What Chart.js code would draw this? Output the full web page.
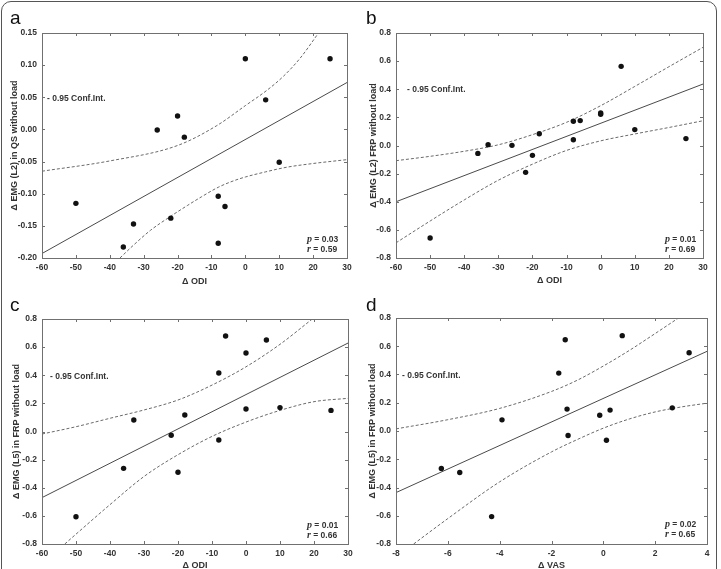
<!DOCTYPE html>
<html>
<head>
<meta charset="utf-8">
<script src="https://cdn.jsdelivr.net/npm/chart.js@4/dist/chart.umd.min.js"></script>
<style>
  html, body { margin: 0; padding: 0; background: #fff; overflow: hidden; }
  #wrap { position: relative; width: 721px; height: 569px; overflow: hidden; font-family: "Liberation Sans Narrow", "Liberation Sans", Arial, sans-serif; }
  #frame { position: absolute; left: 1px; top: 1px; width: 714px; height: 640px; border: 1px solid #555; border-radius: 10px; }
  canvas { position: absolute; }
  .letter { position: absolute; font-family: "Liberation Sans", Arial, sans-serif; font-size: 19px; line-height: 1; color: #111; }
  .note { position: absolute; font-size: 8.5px; font-weight: bold; line-height: 1; color: #333; white-space: nowrap; }
  .stat { position: absolute; font-size: 8.5px; font-weight: bold; line-height: 9px; color: #333; white-space: nowrap; }
  .stat i { font-family: "Liberation Serif", "Times New Roman", serif; font-size: 10px; }
</style>
</head>
<body>
<div id="wrap">
  <div id="frame"></div>
  <canvas id="pa" width="360" height="292" style="left:0;top:0"></canvas>
  <canvas id="pb" width="361" height="292" style="left:360px;top:0"></canvas>
  <canvas id="pc" width="360" height="292" style="left:0;top:285px"></canvas>
  <canvas id="pd" width="361" height="292" style="left:360px;top:285px"></canvas>

  <div class="letter" style="left:10px;top:8px">a</div>
  <div class="letter" style="left:366px;top:8px">b</div>
  <div class="letter" style="left:10px;top:295px">c</div>
  <div class="letter" style="left:366px;top:295px">d</div>

  <div class="note" style="left:47px;top:94px">- 0.95 Conf.Int.</div>
  <div class="note" style="left:407px;top:85px">- 0.95 Conf.Int.</div>
  <div class="note" style="left:50px;top:372px">- 0.95 Conf.Int.</div>
  <div class="note" style="left:402px;top:371px">- 0.95 Conf.Int.</div>

  <div class="stat" style="left:307px;top:234px"><i>p</i> = 0.03<br><i>r</i> = 0.59</div>
  <div class="stat" style="left:665px;top:234px"><i>p</i> = 0.01<br><i>r</i> = 0.69</div>
  <div class="stat" style="left:307px;top:520px"><i>p</i> = 0.01<br><i>r</i> = 0.66</div>
  <div class="stat" style="left:665px;top:519px"><i>p</i> = 0.02<br><i>r</i> = 0.65</div>
</div>

<script>
// ---- panel a: ODI vs EMG (L2) QS ----
const aX = [-50, -36, -33, -26, -22, -20, -18, -8, -8, -6, 0, 6, 10, 25];
const aY = [-0.115, -0.183, -0.147, -0.001, -0.138, 0.021, -0.012, -0.104, -0.177, -0.120, 0.110, 0.046, -0.051, 0.110];
const aFitX = [-60, 30];
const aFitY = [-0.193, 0.073];
const aUpX = [-60, -40, -20, -8.4, 0, 6.4, 11.3, 16.2, 21.6];
const aUpY = [-0.065, -0.049, -0.025, 0.006, 0.037, 0.061, 0.083, 0.111, 0.150];
const aLoX = [-37, -33, -28, -22, -17, -13, -8, -3.5, 0, 6, 12, 20, 30];
const aLoY = [-0.200, -0.180, -0.157, -0.135, -0.118, -0.105, -0.090, -0.080, -0.074, -0.066, -0.059, -0.053, -0.047];

// ---- panel b: ODI vs EMG (L2) FRP ----
const bX = [-50, -36, -33, -26, -22, -20, -18, -8, -8, -6, 0, 0, 6, 10, 25];
const bY = [-0.658, -0.056, 0.006, 0.001, -0.191, -0.070, 0.084, 0.172, 0.041, 0.177, 0.232, 0.222, 0.563, 0.113, 0.049];
const bFitX = [-60, 30];
const bFitY = [-0.40, 0.437];
const bUpX = [-60, -50, -40, -30, -20, -10, 0, 10, 20, 30];
const bUpY = [-0.108, -0.077, -0.041, 0.005, 0.077, 0.165, 0.283, 0.420, 0.560, 0.698];
const bLoX = [-60, -50, -40, -30, -20, -10, 0, 10, 20, 30];
const bLoY = [-0.692, -0.537, -0.387, -0.247, -0.133, -0.035, 0.033, 0.082, 0.128, 0.176];

// ---- panel c: ODI vs EMG (L5) FRP ----
const cX = [-50, -36, -33, -22, -20, -18, -8, -8, -6, 0, 0, 6, 10, 25];
const cY = [-0.606, -0.262, 0.082, -0.027, -0.290, 0.117, 0.416, -0.060, 0.679, 0.558, 0.160, 0.651, 0.170, 0.150];
const cFitX = [-60, 30];
const cFitY = [-0.47, 0.629];
const cUpX = [-60, -50, -40, -30, -20, -10, 0, 10, 19.5];
const cUpY = [-0.018, 0.034, 0.094, 0.153, 0.224, 0.330, 0.460, 0.620, 0.800];
const cLoX = [-53.3, -50, -40, -30, -20, -10, 0, 10, 20, 30];
const cLoY = [-0.800, -0.730, -0.520, -0.320, -0.165, -0.035, 0.067, 0.150, 0.212, 0.236];

// ---- panel d: VAS vs EMG (L5) FRP ----
const dX = [-6.25, -5.54, -4.31, -3.91, -1.72, -1.47, -1.40, -1.36, -0.14, 0.12, 0.26, 0.73, 2.66, 3.31];
const dY = [-0.266, -0.294, -0.606, 0.079, 0.410, 0.646, 0.155, -0.032, 0.112, -0.065, 0.148, 0.675, 0.164, 0.554];
const dFitX = [-8, 4];
const dFitY = [-0.436, 0.564];
const dUpX = [-8, -6, -4, -2, -1, 0, 1, 2, 2.9];
const dUpY = [0.015, 0.080, 0.160, 0.280, 0.360, 0.460, 0.570, 0.690, 0.800];
const dLoX = [-7.32, -6, -4, -2, -1, 0, 1, 2, 3, 4];
const dLoY = [-0.800, -0.620, -0.360, -0.148, -0.060, 0.020, 0.085, 0.135, 0.170, 0.197];

// tick labels
const odiTicks = [-60, -50, -40, -30, -20, -10, 0, 10, 20, 30];
const vasTicks = [-8, -6, -4, -2, 0, 2, 4];
const aYTicks = [-0.20, -0.15, -0.10, -0.05, 0.00, 0.05, 0.10, 0.15];
const frpTicks = [-0.8, -0.6, -0.4, -0.2, 0.0, 0.2, 0.4, 0.6, 0.8];

const FONT = '"Liberation Sans Narrow", "Liberation Sans", Arial, sans-serif';

function pts(xs, ys) {
  return xs.map((x, i) => ({ x: x, y: ys[i] }));
}

// box around plot + small inward ticks on all four sides
const boxTicks = {
  id: 'boxTicks',
  afterDraw(chart) {
    const { ctx, chartArea: a, scales } = chart;
    const x = scales.x, y = scales.y;
    ctx.save();
    ctx.strokeStyle = '#707070';
    ctx.lineWidth = 1;
    ctx.strokeRect(Math.round(a.left) + 0.5, Math.round(a.top) + 0.5, Math.round(a.right - a.left), Math.round(a.bottom - a.top));
    ctx.beginPath();
    x.ticks.forEach(t => {
      const px = Math.round(x.getPixelForValue(t.value)) + 0.5;
      ctx.moveTo(px, a.bottom); ctx.lineTo(px, a.bottom - 3);
      ctx.moveTo(px, a.top); ctx.lineTo(px, a.top + 3);
    });
    y.ticks.forEach(t => {
      const py = Math.round(y.getPixelForValue(t.value)) + 0.5;
      ctx.moveTo(a.left, py); ctx.lineTo(a.left + 3, py);
      ctx.moveTo(a.right, py); ctx.lineTo(a.right - 3, py);
    });
    ctx.stroke();
    ctx.restore();
  }
};

function makePanel(id, p) {
  const dash = { showLine: true, borderColor: '#6a6a6a', borderWidth: 1, borderDash: [3, 2], pointRadius: 0, cubicInterpolationMode: 'monotone' };
  new Chart(document.getElementById(id), {
    type: 'scatter',
    data: {
      datasets: [
        { data: pts(p.x, p.y), pointRadius: 2.7, backgroundColor: '#111', borderWidth: 0 },
        { data: pts(p.fitX, p.fitY), showLine: true, borderColor: '#4a4a4a', borderWidth: 1, pointRadius: 0 },
        Object.assign({ data: pts(p.upX, p.upY) }, dash),
        Object.assign({ data: pts(p.loX, p.loY) }, dash)
      ]
    },
    options: {
      responsive: false,
      animation: false,
      events: [],
      layout: { padding: { top: p.padTop, right: p.padRight, left: 0, bottom: 0 } },
      plugins: { legend: { display: false }, tooltip: { enabled: false } },
      scales: {
        x: {
          type: 'linear',
          min: p.xTicks[0],
          max: p.xTicks[p.xTicks.length - 1],
          afterBuildTicks: s => { s.ticks = p.xTicks.map(v => ({ value: v })); },
          afterFit: s => { s.height = p.xH; },
          grid: { display: false, drawTicks: false },
          border: { display: false },
          ticks: { autoSkip: false, maxRotation: 0, padding: 5, color: '#333', font: { family: FONT, size: 8.5, weight: 'bold' },
                   callback: v => String(v) },
          title: { display: true, text: p.xTitle, color: '#333', font: { family: FONT, size: 9, weight: 'bold' }, padding: { top: 0, bottom: p.xTitlePad } }
        },
        y: {
          type: 'linear',
          min: p.yTicks[0],
          max: p.yTicks[p.yTicks.length - 1],
          afterBuildTicks: s => { s.ticks = p.yTicks.map(v => ({ value: v })); },
          afterFit: s => { s.width = p.yW; },
          grid: { display: false, drawTicks: false },
          border: { display: false },
          ticks: { autoSkip: false, padding: 5, color: '#333', font: { family: FONT, size: 8.5, weight: 'bold' },
                   callback: v => v.toFixed(p.dec) },
          title: { display: true, text: p.yTitle, color: '#333', font: { family: FONT, size: 9, weight: 'bold' }, padding: { top: p.yTitlePad, bottom: 0 } }
        }
      }
    },
    plugins: [boxTicks]
  });
}

makePanel('pa', {
  x: aX, y: aY, fitX: aFitX, fitY: aFitY, upX: aUpX, upY: aUpY, loX: aLoX, loY: aLoY,
  xTicks: odiTicks, yTicks: aYTicks, dec: 2,
  xTitle: '\u0394 ODI', yTitle: '\u0394 EMG (L2) in QS without load',
  padTop: 33, padRight: 13, yW: 42, xH: 34, xTitlePad: 4.6, yTitlePad: 9.6
});
makePanel('pb', {
  x: bX, y: bY, fitX: bFitX, fitY: bFitY, upX: bUpX, upY: bUpY, loX: bLoX, loY: bLoY,
  xTicks: odiTicks, yTicks: frpTicks, dec: 1,
  xTitle: '\u0394 ODI', yTitle: '\u0394 EMG (L2) FRP without load',
  padTop: 33, padRight: 18, yW: 36, xH: 34, xTitlePad: 5.6, yTitlePad: 7.9
});
makePanel('pc', {
  x: cX, y: cY, fitX: cFitX, fitY: cFitY, upX: cUpX, upY: cUpY, loX: cLoX, loY: cLoY,
  xTicks: odiTicks, yTicks: frpTicks, dec: 1,
  xTitle: '\u0394 ODI', yTitle: '\u0394 EMG (L5) in FRP without load',
  padTop: 34, padRight: 12, yW: 42, xH: 33, xTitlePad: 5.6, yTitlePad: 11.3
});
makePanel('pd', {
  x: dX, y: dY, fitX: dFitX, fitY: dFitY, upX: dUpX, upY: dUpY, loX: dLoX, loY: dLoY,
  xTicks: vasTicks, yTicks: frpTicks, dec: 1,
  xTitle: '\u0394 VAS', yTitle: '\u0394 EMG (L5) in FRP without load',
  padTop: 33, padRight: 14, yW: 36, xH: 33, xTitlePad: 5.6, yTitlePad: 6.9
});
</script>
</body>
</html>
